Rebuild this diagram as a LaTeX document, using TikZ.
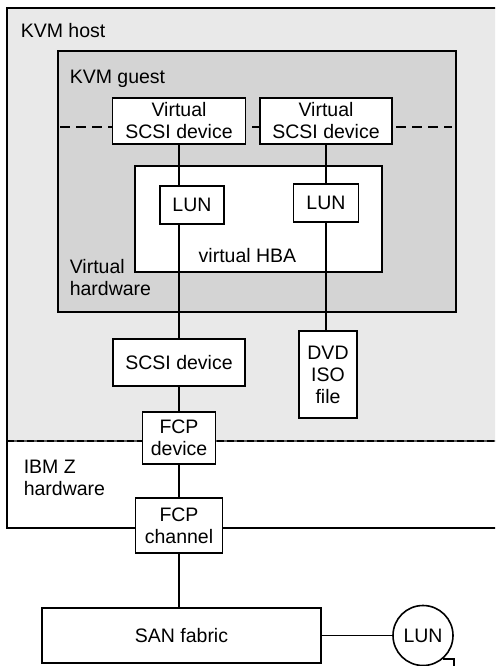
\documentclass[tikz,border=0pt]{standalone}
\usepackage{fontspec}
\setmainfont{Liberation Sans}
\definecolor{hostgray}{HTML}{E9E9E9}
\definecolor{guestgray}{HTML}{D4D4D4}
\begin{document}
\begin{tikzpicture}[x=1pt, y=-1pt, line width=1.6pt,
	every node/.style={font=\fontsize{19.5}{22}\selectfont},
	box/.style={draw, fill=white, align=center, inner sep=0pt},
	tag/.style={inner sep=0pt, align=left}
	]
	
	\useasboundingbox (0,0) rectangle (495,666);
	\clip (0,0) rectangle (495,666);
	\fill[white] (0,0) rectangle (495,666);
	% host and hardware
	\fill[hostgray] (7,8) rectangle (520,441);
	\draw (7,441) -- (7,8) -- (520,8);
	\draw (7,441) -- (7,528) -- (520,528);
	\draw[gray!70!black, line width=1.6pt] (7,441) -- (520,441);
	\draw[dash pattern=on 7pt off 3pt, line width=1.6pt] (7,441) -- (520,441);
	\node [tag, anchor=base west] (host) at (20,38) {KVM host};
	\node [tag, anchor=north west] (ibmz) at (23,459) {IBM Z\\hardware};
	
	% guest
	\draw[fill=guestgray] (58,51) rectangle (456,312);
	\draw[dash pattern=on 10pt off 6pt] (60,127) -- (452,127);
	\node [tag, anchor=base west] (guest) at (69,84) {KVM guest};
	\node [tag, anchor=north west] (virthw) at (69,259) {Virtual\\hardware};
	
	\node [box, minimum width=247pt, minimum height=106pt] (hba) at (258.5,219) {};
	\node [tag, anchor=base] (hbatext) at (247.5,262) {virtual HBA};
	\node [box, minimum width=133pt, minimum height=46pt] (vs1) at (179,121) {Virtual\\SCSI device};
	\node [box, minimum width=132pt, minimum height=46pt] (vs2) at (326,121) {Virtual\\SCSI device};
	\node [box, minimum width=64pt, minimum height=38pt] (lun1) at (192,205) {LUN};
	\node [box, minimum width=65pt, minimum height=38pt] (lun2) at (326,203) {LUN};
	\node [box, minimum width=132pt, minimum height=47pt] (scsi) at (179,362.5) {SCSI device};
	\node [box, minimum width=58pt, minimum height=87pt] (dvd) at (328,374.5) {DVD\\ISO\\file};
	\node [box, minimum width=73pt, minimum height=52pt] (fcpdev) at (179,438) {FCP\\device};
	\node [box, minimum width=87pt, minimum height=55pt] (fcpch) at (179,525.5) {FCP\\channel};
	\node [box, minimum width=279pt, minimum height=55pt] (san) at (181.5,635.5) {SAN fabric};
	\node [draw, circle, inner sep=0pt, minimum size=60pt] (lunc) at (423,635.5) {LUN};
	
	\draw (vs1.south) -- (vs1.south |- lun1.north);
	\draw (vs1.south |- lun1.south) -- (scsi.north);
	\draw (vs2) -- (lun2);
	\draw (lun2.south) -- (lun2.south |- dvd.north);
	\draw (scsi) -- (fcpdev);
	\draw (fcpdev) -- (fcpch);
	\draw (fcpch.south) -- (fcpch.south |- san.north);
	\draw (san) -- (lunc);
	\draw (lunc.-50) -- ++(11,0) -- ++(0,20);
\end{tikzpicture}
\end{document}
